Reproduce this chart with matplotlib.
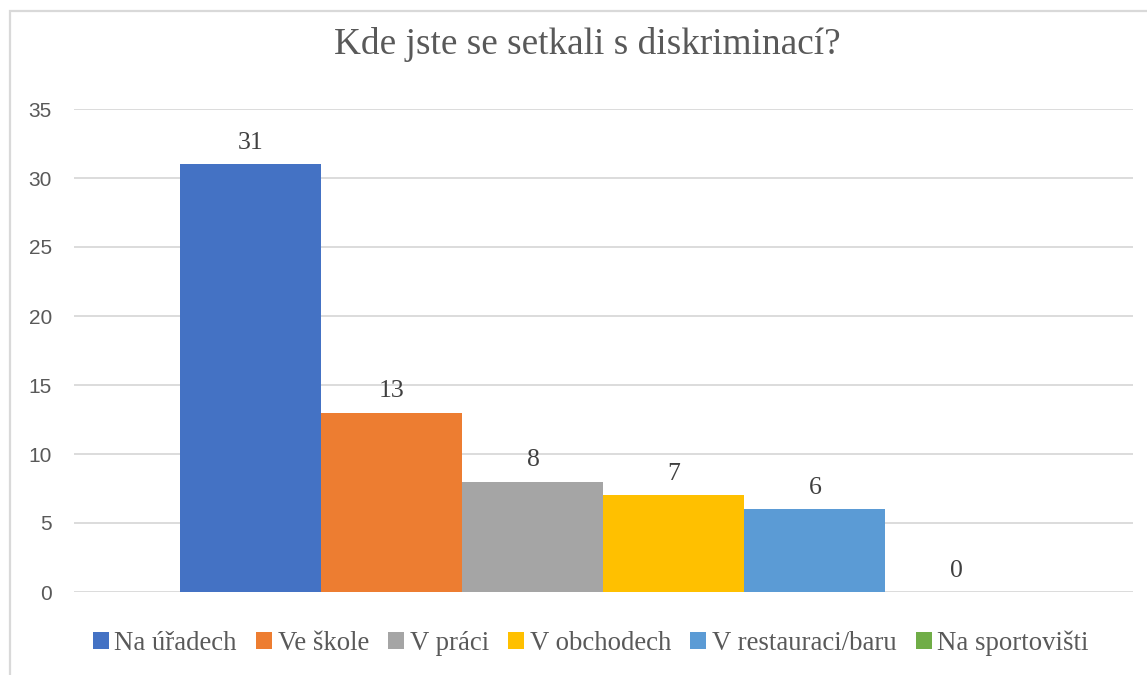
import matplotlib
matplotlib.use("Agg")
import matplotlib.pyplot as plt
from matplotlib.patches import Rectangle

title = "Kde jste se setkali s diskriminací?"
series_names = ["Na úřadech", "Ve škole", "V práci", "V obchodech", "V restauraci/baru", "Na sportovišti"]
values = [31, 13, 8, 7, 6, 0]
colors = ["#4472C4", "#ED7D31", "#A5A5A5", "#FFC000", "#5B9BD5", "#70AD47"]
yticks = [0, 5, 10, 15, 20, 25, 30, 35]

W, H = 1147, 675
fig = plt.figure(figsize=(W / 100, H / 100), dpi=100)
fig.patch.set_facecolor("white")

# outer chart frame
fig.add_artist(Rectangle((9.5 / W, -0.1), 1.2, 1 - 11 / H + 0.1, transform=fig.transFigure,
                         fill=False, edgecolor="#D9D9D9", linewidth=1.6))

ax = fig.add_axes([74 / W, 1 - 592 / H, (1133 - 74) / W, (592 - 109) / H])
n = len(values)
handles = []
for i, (name, v, c) in enumerate(zip(series_names, values, colors)):
    x = i - (n - 1) / 2
    b = ax.bar(x, v, width=1.0, color=c, label=name, zorder=3)
    handles.append(b)
    ax.annotate(str(v), (x, v), xytext=(0, 7.5), textcoords="offset points",
                ha="center", va="bottom", fontsize=18.5, color="#404040",
                family="Liberation Serif")

ax.set_xlim(-(1059 / 141) / 2, (1059 / 141) / 2)
ax.set_ylim(0, 35)
ax.set_yticks(yticks)
ax.set_xticks([])
ax.yaxis.grid(True, color="#D9D9D9", linewidth=1.3, zorder=0)
for s in ax.spines.values():
    s.set_visible(False)
ax.tick_params(axis="y", length=0, pad=16, labelsize=15, labelcolor="#595959")
for t in ax.get_yticklabels():
    t.set_family("Liberation Sans")

fig.text(0.512, 1 - 45 / H, title, ha="center", va="center", fontsize=26.8,
         color="#595959", family="Liberation Serif")

leg = fig.legend(handles=handles, labels=series_names, loc="center", ncol=6,
                 bbox_to_anchor=(0.515, 1 - 643 / H), frameon=False,
                 prop={"family": "Liberation Serif", "size": 19.3},
                 handlelength=0.6, handleheight=0.6, handletextpad=0.2,
                 columnspacing=0.72, labelcolor="#595959")

fig.savefig("out.png", dpi=100)
